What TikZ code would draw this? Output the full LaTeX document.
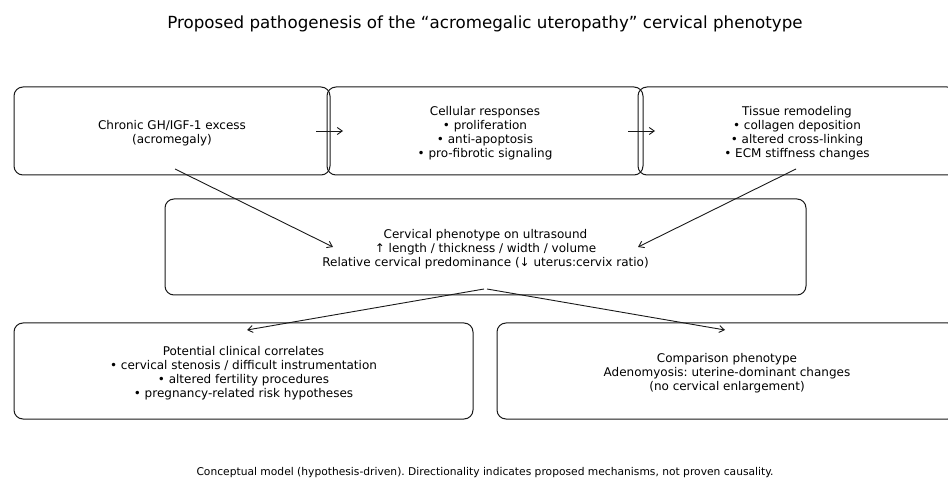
\documentclass[tikz,border=0pt]{standalone}
\usepackage{fontspec}
\setmainfont{DejaVu Sans}
\usetikzlibrary{arrows.meta}
\frenchspacing
\newcommand{\tp}{\rule{0pt}{13pt}}
\begin{document}
\begin{tikzpicture}[x=1pt,y=-1pt,
  box/.style={draw=black!90,line width=1pt,rounded corners=9pt,align=center,
    font=\fontsize{12}{14}\selectfont,inner sep=0pt},
  arr/.style={-{Straight Barb[length=5pt,width=7pt]},line width=0.9pt,black!90}]
\useasboundingbox (0,0) rectangle (948,478);
\node[font=\fontsize{16.7}{19}\selectfont] (title) at (485,24) {Proposed pathogenesis of the “acromegalic uteropathy” cervical phenotype};
\node[box,minimum width=316pt,minimum height=88pt] (b1) at (172,131) {\tp Chronic GH/IGF-1 excess\\(acromegaly)};
\node[box,minimum width=316pt,minimum height=88pt] (b2) at (485,131) {\tp Cellular responses\\• proliferation\\• anti-apoptosis\\• pro-fibrotic signaling};
\node[box,minimum width=318pt,minimum height=88pt] (b3) at (797,131) {\tp Tissue remodeling\\• collagen deposition\\• altered cross-linking\\• ECM stiffness changes};
\node[box,minimum width=641pt,minimum height=96pt] (b4) at (485.5,247) {\tp Cervical phenotype on ultrasound\\↑ length / thickness / width / volume\\Relative cervical predominance (↓ uterus:cervix ratio)};
\node[box,minimum width=459pt,minimum height=96pt] (b5) at (243.5,371) {\tp Potential clinical correlates\\• cervical stenosis / difficult instrumentation\\• altered fertility procedures\\• pregnancy-related risk hypotheses};
\node[box,minimum width=460pt,minimum height=96pt] (b6) at (727,371) {\tp Comparison phenotype\\Adenomyosis: uterine-dominant changes\\(no cervical enlargement)};
\node[font=\fontsize{10.7}{12}\selectfont] (foot) at (485,473) {Conceptual model (hypothesis-driven). Directionality indicates proposed mechanisms, not proven causality.};
\coordinate (s12) at (316,131); \coordinate (e12) at (343,131);
\coordinate (s23) at (628,131); \coordinate (e23) at (655,131);
\coordinate (s14) at (175,169); \coordinate (e14) at (333,247);
\coordinate (s34) at (796,169); \coordinate (e34) at (638,247);
\coordinate (s45) at (484,289); \coordinate (e45) at (247,330);
\coordinate (s46) at (487,289); \coordinate (e46) at (725,330);
\draw[arr] (s12) -- (e12);
\draw[arr] (s23) -- (e23);
\draw[arr] (s14) -- (e14);
\draw[arr] (s34) -- (e34);
\draw[arr] (s45) -- (e45);
\draw[arr] (s46) -- (e46);
\end{tikzpicture}
\end{document}
